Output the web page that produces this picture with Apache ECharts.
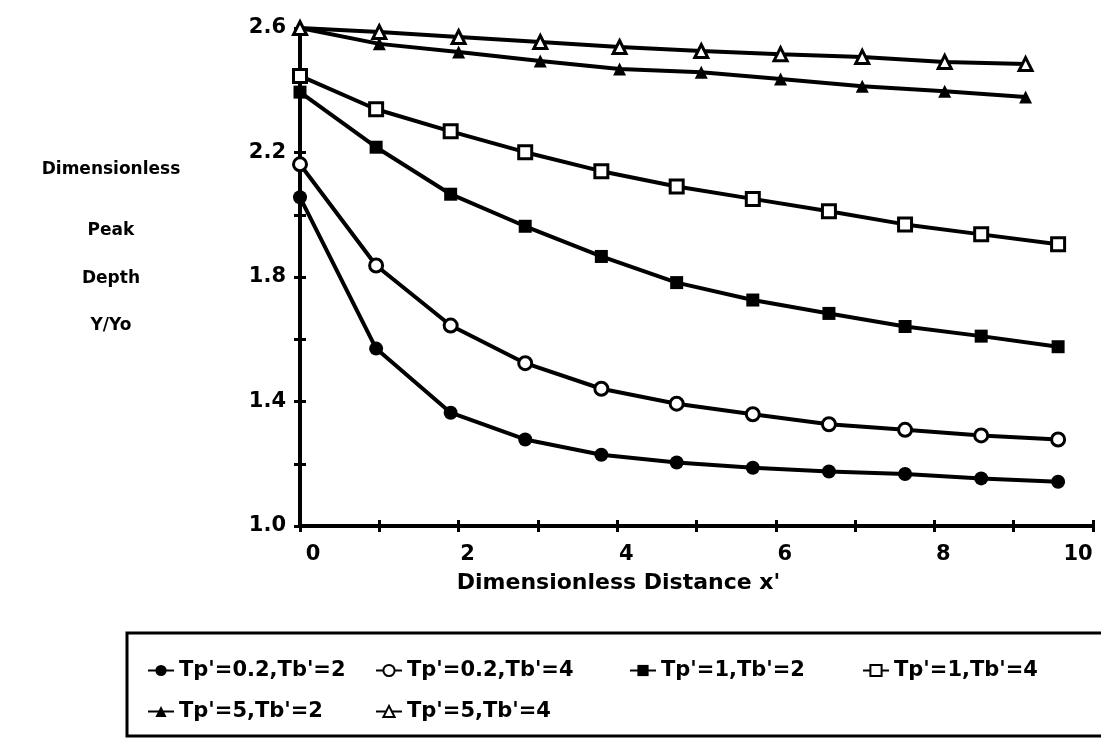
<!DOCTYPE html>
<html>
<head>
<meta charset="utf-8">
<script src="https://cdn.jsdelivr.net/npm/echarts@6/dist/echarts.min.js"></script>
<style>
  html, body { margin: 0; padding: 0; background: #fff; }
  #main { width: 1101px; height: 739px; }
</style>
</head>
<body>
<div id="main"></div>
<script>
// x positions of the markers (the triangle curves use a slightly wider step)
var xRound = [0, 0.96, 1.9, 2.84, 3.8, 4.75, 5.71, 6.67, 7.63, 8.59, 9.56];
var xTri = [0, 1.0, 2.0, 3.03, 4.03, 5.06, 6.06, 7.09, 8.13, 9.15];

// Y/Yo values
var tp02tb2 = [2.056, 1.570, 1.364, 1.278, 1.229, 1.204, 1.187, 1.175, 1.167, 1.153, 1.142];
var tp02tb4 = [2.162, 1.837, 1.644, 1.523, 1.441, 1.393, 1.359, 1.327, 1.309, 1.291, 1.278];
var tp1tb2 = [2.394, 2.217, 2.066, 1.963, 1.866, 1.782, 1.726, 1.683, 1.641, 1.610, 1.576];
var tp1tb4 = [2.446, 2.339, 2.268, 2.201, 2.140, 2.091, 2.051, 2.011, 1.969, 1.937, 1.905];
var tp5tb2 = [2.600, 2.549, 2.523, 2.494, 2.468, 2.458, 2.436, 2.413, 2.397, 2.378];
var tp5tb4 = [2.600, 2.587, 2.571, 2.555, 2.539, 2.526, 2.516, 2.507, 2.491, 2.484];

var names = ["Tp'=0.2,Tb'=2", "Tp'=0.2,Tb'=4", "Tp'=1,Tb'=2", "Tp'=1,Tb'=4", "Tp'=5,Tb'=2", "Tp'=5,Tb'=4"];
var yTitle = ['Dimensionless', 'Peak', 'Depth', 'Y/Yo'];

var FONT = '"DejaVu Sans", sans-serif';

function pairs(xs, ys) {
  return ys.map(function (y, i) { return [xs[i], y]; });
}

function makeSeries(name, xs, ys, symbol, filled, size) {
  return {
    name: name,
    type: 'line',
    data: pairs(xs, ys),
    symbol: symbol,
    symbolSize: size,
    showAllSymbol: true,
    lineStyle: { color: '#000', width: 4 },
    itemStyle: {
      color: filled ? '#000' : '#fff',
      borderColor: '#000',
      borderWidth: filled ? 0 : 3
    },
    emphasis: { disabled: true },
    z: 3
  };
}

var myChart = echarts.init(document.getElementById('main'));

// 6 legends so each item sits where it is in the picture
var legendPos = [[142, 655], [370, 655], [624, 655], [857, 655], [142, 696], [370, 696]];
var legends = names.map(function (n, i) {
  return {
    data: [n],
    left: legendPos[i][0],
    top: legendPos[i][1],
    itemWidth: 26,
    itemHeight: 14,
    itemGap: 0,
    selectedMode: false,
    textStyle: { fontFamily: FONT, fontWeight: 'bold', fontSize: 21, color: '#000' }
  };
});

var option = {
  animation: false,
  backgroundColor: '#fff',
  grid: { left: 300, right: 8, top: 28, bottom: 213 },
  legend: legends,
  graphic: [
    {
      type: 'rect',
      shape: { x: 127, y: 633, width: 990, height: 103 },
      style: { fill: 'none', stroke: '#000', lineWidth: 3 }
    }
  ].concat(yTitle.map(function (t, i) {
    var ys = [170, 231, 279, 326];
    return {
      type: 'text',
      x: 111,
      y: ys[i],
      style: {
        text: t,
        fontFamily: FONT,
        fontWeight: 'bold',
        fontSize: 17,
        fill: '#000',
        align: 'center',
        verticalAlign: 'middle'
      }
    };
  })),
  xAxis: [
    {
      type: 'value',
      min: 0,
      max: 10,
      interval: 1,
      name: "Dimensionless Distance x'",
      nameLocation: 'middle',
      nameGap: 46,
      nameTextStyle: { fontFamily: FONT, fontWeight: 'bold', fontSize: 22, color: '#000', padding: [0, 156, 0, 0] },
      axisLine: { show: true, lineStyle: { color: '#000', width: 4 } },
      axisTick: { show: true, inside: false, length: 6, lineStyle: { color: '#000', width: 3 } },
      splitLine: { show: false },
      axisLabel: {
        margin: 18,
        fontFamily: FONT,
        fontWeight: 'bold',
        fontSize: 21,
        color: '#000',
        formatter: function (v) {
          if (v % 2 !== 0) return '';
          if (v === 10) return '{r|10}';
          if (v === 0) return '{z|0}';
          return '{n|' + v + '}';
        },
        rich: {
          z: { fontFamily: FONT, fontWeight: 'bold', fontSize: 21, color: '#000', padding: [0, 0, 0, 26] },
          n: { fontFamily: FONT, fontWeight: 'bold', fontSize: 21, color: '#000', padding: [0, 0, 0, 18] },
          r: { fontFamily: FONT, fontWeight: 'bold', fontSize: 21, color: '#000', padding: [0, 30, 0, 0] }
        }
      }
    },
    {
      type: 'value',
      min: 0,
      max: 10,
      interval: 1,
      position: 'bottom',
      axisLine: { show: false },
      axisTick: { show: true, inside: true, length: 6, lineStyle: { color: '#000', width: 3 } },
      axisLabel: { show: false },
      splitLine: { show: false }
    }
  ],
  yAxis: [
    {
      type: 'value',
      min: 1.0,
      max: 2.6,
      interval: 0.2,
      axisLine: { show: true, lineStyle: { color: '#000', width: 4 } },
      axisTick: { show: true, inside: false, length: 6, lineStyle: { color: '#000', width: 3 } },
      splitLine: { show: false },
      axisLabel: {
        margin: 14,
        fontFamily: FONT,
        fontWeight: 'bold',
        fontSize: 21,
        color: '#000',
        formatter: function (v) {
          var n = Math.round(v * 10);
          return (n - 10) % 4 === 0 ? v.toFixed(1) : '';
        }
      }
    },
    {
      type: 'value',
      min: 1.0,
      max: 2.6,
      interval: 0.2,
      position: 'left',
      axisLine: { show: false },
      axisTick: { show: true, inside: true, length: 6, lineStyle: { color: '#000', width: 3 } },
      axisLabel: { show: false },
      splitLine: { show: false }
    }
  ],
  series: [
    makeSeries(names[0], xRound, tp02tb2, 'circle', true, 14),
    makeSeries(names[1], xRound, tp02tb4, 'circle', false, 13),
    makeSeries(names[2], xRound, tp1tb2, 'rect', true, 13),
    makeSeries(names[3], xRound, tp1tb4, 'rect', false, 13),
    makeSeries(names[4], xTri, tp5tb2, 'triangle', true, 13),
    makeSeries(names[5], xTri, tp5tb4, 'triangle', false, 13)
  ]
};

myChart.setOption(option);
</script>
</body>
</html>
